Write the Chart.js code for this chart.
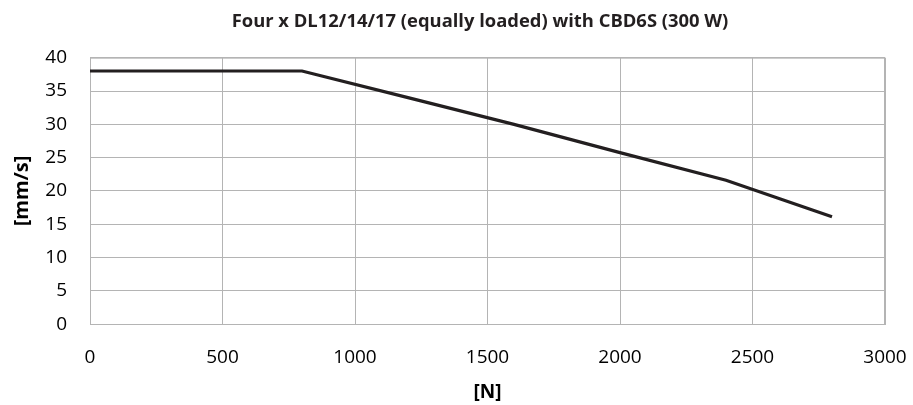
<!DOCTYPE html>
<html>
<head>
<meta charset="utf-8">
<script src="https://cdn.jsdelivr.net/npm/chart.js@4.4.1/dist/chart.umd.min.js"></script>
<style>
html,body{margin:0;padding:0;background:#fff;}
#wrap{width:913px;height:405px;position:relative;}
</style>
</head>
<body>
<div id="wrap"><canvas id="c" width="913" height="405"></canvas></div>
<script>
const chartTitle = "Four x DL12/14/17 (equally loaded) with CBD6S (300 W)";
const xTitle = "[N]";
const yTitle = "[mm/s]";
const loadN = [0, 400, 800, 1200, 1600, 2000, 2400, 2800];
const speedMms = [38, 38, 38, 34.0, 30.0, 25.75, 21.6, 16.15];
const xTicks = [0, 500, 1000, 1500, 2000, 2500, 3000];
const yTicks = [0, 5, 10, 15, 20, 25, 30, 35, 40];

const points = loadN.map((x, i) => ({x: x, y: speedMms[i]}));
const gridColor = '#b4b4b4';
const tickFont = {family: "'Open Sans', 'Noto Sans', sans-serif", size: 19};

new Chart(document.getElementById('c'), {
  type: 'line',
  data: {
    datasets: [{
      data: points,
      borderColor: '#231f20',
      borderWidth: 3.2,
      pointRadius: 0,
      tension: 0,
      fill: false
    }]
  },
  options: {
    responsive: false,
    animation: false,
    devicePixelRatio: 1,
    layout: {padding: {left: 0, right: 28, top: 0, bottom: 0}},
    plugins: {
      legend: {display: false},
      tooltip: {enabled: false},
      title: {
        display: true,
        text: chartTitle,
        color: '#231f20',
        font: {family: "'Open Sans', sans-serif", size: 18.4, weight: 'bold', lineHeight: 1.2},
        padding: {top: 10.5, bottom: 25.1}
      }
    },
    scales: {
      x: {
        type: 'linear',
        min: xTicks[0],
        max: xTicks[xTicks.length - 1],
        afterBuildTicks: s => { s.ticks = xTicks.map(v => ({value: v})); },
        afterFit: s => { s.height = 80.7; s.paddingLeft = 0; s.paddingRight = 0; },
        grid: {color: gridColor, lineWidth: 1, drawTicks: false},
        border: {color: gridColor, width: 1},
        ticks: {color: '#000', font: tickFont, padding: 22, maxRotation: 0, autoSkip: false,
                callback: v => String(v)},
        title: {
          display: true, text: xTitle, color: '#000',
          font: {family: "'Open Sans', sans-serif", size: 19, weight: 'bold', lineHeight: 1.2},
          padding: {top: 0, bottom: 1.5}
        }
      },
      y: {
        type: 'linear',
        min: yTicks[0],
        max: yTicks[yTicks.length - 1],
        afterBuildTicks: s => { s.ticks = yTicks.map(v => ({value: v})); },
        afterFit: s => { s.width = 90; s.paddingTop = 0; s.paddingBottom = 0; },
        grid: {color: gridColor, lineWidth: 1, drawTicks: false},
        border: {color: gridColor, width: 1},
        ticks: {color: '#000', font: tickFont, padding: 23, autoSkip: false,
                callback: v => String(v)},
        title: {
          display: true, text: yTitle, color: '#000',
          font: {family: "'Open Sans', sans-serif", size: 20, weight: 'bold', lineHeight: 1.2},
          padding: {top: 10.5, bottom: 0}
        }
      }
    }
  },
  plugins: [{
    id: 'titleShift',
    afterLayout(chart) {
      const t = chart.titleBlock;
      if (!t) return;
      const shift = 480 - (t.left + t.right) / 2;
      t.left += shift;
      t.right += shift;
    }
  }, {
    id: 'topRightBorder',
    afterDraw(chart) {
      const a = chart.chartArea, ctx = chart.ctx;
      ctx.save();
      ctx.strokeStyle = gridColor;
      ctx.lineWidth = 1;
      ctx.beginPath();
      ctx.moveTo(a.left, a.top + 0.5);
      ctx.lineTo(a.right, a.top + 0.5);
      ctx.moveTo(a.right - 0.5, a.top);
      ctx.lineTo(a.right - 0.5, a.bottom);
      ctx.stroke();
      ctx.restore();
    }
  }]
});
</script>
</body>
</html>
